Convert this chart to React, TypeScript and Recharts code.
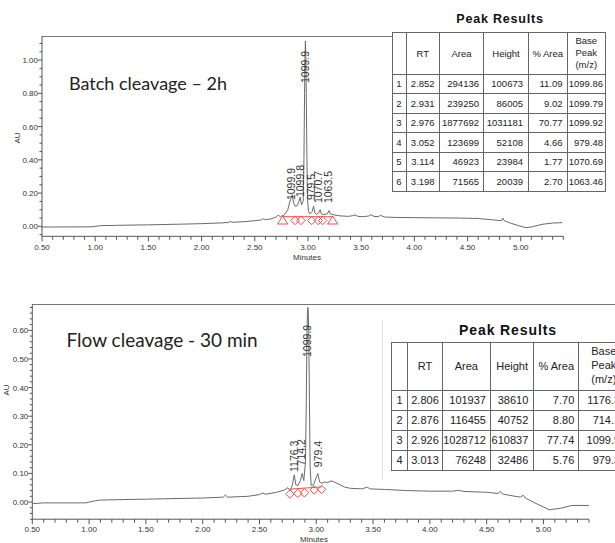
import React from "react";
import { ComposedChart, Line, Scatter, XAxis, YAxis } from "recharts";

// ---- batch cleavage (2h) trace, minutes vs AU
const batchTime = [0.5, 0.6, 0.97, 1.05, 1.2, 1.5, 1.8, 2.0, 2.2, 2.26, 2.27, 2.28, 2.4, 2.5, 2.56, 2.58, 2.6, 2.65, 2.7, 2.72, 2.74, 2.78, 2.81, 2.835, 2.852, 2.865, 2.88, 2.9, 2.915, 2.925, 2.94, 2.955, 2.962, 2.968, 2.972, 2.976, 2.98, 2.984, 2.99, 2.996, 3.005, 3.02, 3.04, 3.052, 3.065, 3.08, 3.1, 3.114, 3.125, 3.15, 3.18, 3.198, 3.21, 3.25, 3.3, 3.38, 3.42, 3.44, 3.47, 3.52, 3.57, 3.59, 3.62, 3.66, 3.68, 3.72, 3.8, 3.9, 4.0, 4.2, 4.4, 4.6, 4.75, 4.82, 4.83, 4.845, 4.9, 4.98, 5.05, 5.1, 5.2, 5.3, 5.39];
const batchAU = [-0.004, -0.004, -0.003, 0.004, 0.006, 0.009, 0.013, 0.016, 0.021, 0.024, 0.032, 0.024, 0.028, 0.034, 0.038, 0.046, 0.04, 0.044, 0.055, 0.068, 0.058, 0.07, 0.1, 0.16, 0.19, 0.14, 0.12, 0.125, 0.15, 0.175, 0.13, 0.15, 0.4, 0.8, 1.02, 1.115, 1.02, 0.8, 0.42, 0.16, 0.09, 0.075, 0.09, 0.12, 0.08, 0.072, 0.08, 0.1, 0.075, 0.07, 0.075, 0.095, 0.075, 0.068, 0.063, 0.06, 0.064, 0.068, 0.06, 0.058, 0.062, 0.07, 0.06, 0.058, 0.066, 0.056, 0.054, 0.053, 0.052, 0.051, 0.05, 0.047, 0.038, 0.034, 0.05, 0.034, 0.02, 0.004, -0.008, -0.004, 0.012, 0.02, 0.022];

const batchLabelTime = [2.84, 2.925, 2.972, 3.035, 3.094, 3.188];
const batchLabelAU = [0.158, 0.176, 0.862, 0.158, 0.14, 0.14];
const batchLabelText = ["1099.9", "1099.8", "1099.9", "979.5", "1070.7", "1063.5"];

const batchMarkTime = [2.762, 2.878, 2.934, 3.035, 3.097, 3.138, 3.232];
const batchMarkAU = [0.035, 0.035, 0.035, 0.035, 0.035, 0.035, 0.035];
const batchMarkShape = ["tri", "dia", "dia", "dia", "dia", "dia", "tri"];
const batchBaseTime = [2.762, 3.232];
const batchBaseAU = [0.058, 0.058];

// ---- flow cleavage (30 min) trace
const flowTime = [0.5, 0.6, 0.97, 1.05, 1.1, 1.5, 2.0, 2.18, 2.2, 2.22, 2.4, 2.5, 2.53, 2.55, 2.65, 2.72, 2.75, 2.77, 2.79, 2.806, 2.82, 2.84, 2.86, 2.876, 2.89, 2.905, 2.912, 2.918, 2.922, 2.926, 2.93, 2.934, 2.94, 2.946, 2.955, 2.975, 2.995, 3.013, 3.03, 3.05, 3.07, 3.1, 3.13, 3.16, 3.2, 3.25, 3.3, 3.4, 3.45, 3.47, 3.6, 3.8, 4.0, 4.2, 4.25, 4.3, 4.5, 4.6, 4.62, 4.64, 4.75, 4.8, 4.82, 4.84, 4.95, 5.05, 5.15, 5.25, 5.4];
const flowAU = [-0.006, -0.003, -0.003, 0.004, 0.007, 0.01, 0.014, 0.017, 0.024, 0.017, 0.02, 0.026, 0.032, 0.027, 0.034, 0.042, 0.05, 0.04, 0.06, 0.095, 0.06, 0.058, 0.075, 0.1, 0.075, 0.14, 0.35, 0.58, 0.66, 0.68, 0.66, 0.58, 0.35, 0.12, 0.058, 0.06, 0.08, 0.1, 0.07, 0.065, 0.07, 0.068, 0.074, 0.07, 0.062, 0.052, 0.048, 0.046, 0.052, 0.046, 0.044, 0.04, 0.038, 0.038, 0.041, 0.037, 0.034, 0.03, 0.037, 0.028, 0.02, 0.017, 0.024, 0.014, -0.008, -0.027, -0.022, -0.012, -0.012];

const flowLabelTime = [2.806, 2.871, 2.92, 3.018];
const flowLabelAU = [0.105, 0.128, 0.507, 0.122];
const flowLabelText = ["1176.3", "714.2", "1099.9", "979.4"];

const flowMarkTime = [2.768, 2.838, 2.896, 2.982, 3.047];
const flowMarkAU = [0.028, 0.03, 0.032, 0.042, 0.044];
const flowBaseTime = [2.768, 3.047];
const flowBaseAU = [0.045, 0.053];

// ---- peak tables
const batchRT = ["2.852", "2.931", "2.976", "3.052", "3.114", "3.198"];
const batchArea = ["294136", "239250", "1877692", "123699", "46923", "71565"];
const batchHeight = ["100673", "86005", "1031181", "52108", "23984", "20039"];
const batchPctArea = ["11.09", "9.02", "70.77", "4.66", "1.77", "2.70"];
const batchBasePeak = ["1099.86", "1099.79", "1099.92", "979.48", "1070.69", "1063.46"];

const flowRT = ["2.806", "2.876", "2.926", "3.013"];
const flowArea = ["101937", "116455", "1028712", "76248"];
const flowHeight = ["38610", "40752", "610837", "32486"];
const flowPctArea = ["7.70", "8.80", "77.74", "5.76"];
const flowBasePeak = ["1176.33", "714.19", "1099.92", "979.35"];

const xMajor = [0.5, 1.0, 1.5, 2.0, 2.5, 3.0, 3.5, 4.0, 4.5, 5.0];
const batchYMajor = [0, 0.2, 0.4, 0.6, 0.8, 1.0];
const flowYMajor = [0, 0.1, 0.2, 0.3, 0.4, 0.5, 0.6];

const FONT = "'Liberation Sans', Arial, sans-serif";
const TRACE = "#6a6a6a";
const RED = "#f0504a";

function steps(from: number, to: number, step: number) {
  const out: number[] = [];
  for (let i = 0; from + i * step <= to + 1e-9; i++) out.push(Math.round((from + i * step) * 1000) / 1000);
  return out;
}
const xTicks = steps(0.5, 5.4, 0.1);

const isMajor = (list: number[], v: number) => list.some((m) => Math.abs(m - v) < 1e-6);

function xTick(labelGap: number) {
  return (p: any) => {
    const v = Number(p.payload.value);
    const major = isMajor(xMajor, v);
    return (
      <g key={`xt-${p.index}`}>
        <line x1={p.x} x2={p.x} y1={p.y} y2={p.y + (major ? 5 : 3.5)} stroke="#555" />
        {major && (
          <text x={p.x} y={p.y + labelGap} textAnchor="middle" fontSize={8} fill="#333" fontFamily={FONT}>
            {v.toFixed(2)}
          </text>
        )}
      </g>
    );
  };
}

function yTick(majors: number[]) {
  return (p: any) => {
    const v = Number(p.payload.value);
    const major = isMajor(majors, v);
    return (
      <g key={`yt-${p.index}`}>
        <line x1={p.x} x2={p.x - (major ? 4 : 2.5)} y1={p.y} y2={p.y} stroke="#555" />
        {major && (
          <text x={p.x - 4} y={p.y + 3} textAnchor="end" fontSize={8} fill="#333" fontFamily={FONT}>
            {v.toFixed(2)}
          </text>
        )}
      </g>
    );
  };
}

const PeakLabel = (p: any) => {
  const { cx, cy, payload } = p;
  return (
    <text x={cx} y={cy} dy="0.36em" transform={`rotate(-90 ${cx} ${cy})`} fontSize={10.5} fill="#333" fontFamily={FONT}>
      {payload.text}
    </text>
  );
};

const PeakMark = (p: any) => {
  const { cx, cy, payload } = p;
  if (payload.shape === "tri") {
    return <path d={`M${cx},${cy - 4.5} L${cx + 5},${cy + 3.5} L${cx - 5},${cy + 3.5} Z`} fill="none" stroke={RED} strokeWidth={1} />;
  }
  return <path d={`M${cx},${cy - 4.2} L${cx + 4.2},${cy} L${cx},${cy + 4.2} L${cx - 4.2},${cy} Z`} fill="none" stroke={RED} strokeWidth={1} />;
};

function Chromatogram(props: {
  top: number; width: number; height: number; margin: any; yDomain: [number, number];
  yMajor: number[]; yMinorStep: number; xLabelGap: number;
  time: number[]; au: number[];
  labelTime: number[]; labelAU: number[]; labelText: string[];
  markTime: number[]; markAU: number[]; markShape: string[];
  baseTime: number[]; baseAU: number[];
}) {
  const trace = props.time.map((t, i) => ({ t, y: props.au[i] }));
  const labels = props.labelTime.map((t, i) => ({ t, y: props.labelAU[i], text: props.labelText[i] }));
  const marks = props.markTime.map((t, i) => ({ t, y: props.markAU[i], shape: props.markShape[i] }));
  const base = props.baseTime.map((t, i) => ({ t, y: props.baseAU[i] }));
  const yTicks = steps(Math.ceil(props.yDomain[0] / props.yMinorStep) * props.yMinorStep, props.yDomain[1], props.yMinorStep);
  // axes are 1px boxes (recharts skips a 0-sized axis), so margins are 1px smaller
  const m = { ...props.margin, left: props.margin.left - 1, bottom: props.margin.bottom - 1 };
  return (
    <div style={{ position: "absolute", left: 0, top: props.top }}>
      <ComposedChart width={props.width} height={props.height} margin={m}>
        <XAxis type="number" dataKey="t" domain={[0.5, 5.4]} ticks={xTicks} interval={0} allowDataOverflow
          height={1} tickSize={0} tickMargin={0} axisLine={{ stroke: "#555" }} tickLine={false} tick={xTick(props.xLabelGap)} />
        <YAxis type="number" dataKey="y" domain={props.yDomain} ticks={yTicks} interval={0} allowDataOverflow
          width={1} tickSize={0} tickMargin={0} axisLine={{ stroke: "#555" }} tickLine={false} tick={yTick(props.yMajor)} />
        <Line data={trace} dataKey="y" type="linear" stroke={TRACE} strokeWidth={1} dot={false} isAnimationActive={false} />
        <Line data={base} dataKey="y" type="linear" stroke={RED} strokeWidth={1} dot={false} isAnimationActive={false} />
        <Scatter data={marks} dataKey="y" shape={PeakMark} isAnimationActive={false} />
        <Scatter data={labels} dataKey="y" shape={PeakLabel} isAnimationActive={false} />
      </ComposedChart>
    </div>
  );
}

function PeakTable(props: {
  left: number; top: number; widths: number[]; headH: number; rowH: number; fontSize: number;
  rt: string[]; area: string[]; height: string[]; pct: string[]; base: string[];
}) {
  const cell = (w: number, align: "center" | "right", pad = 0): React.CSSProperties => ({
    width: w, minWidth: w, maxWidth: w, border: "1px solid #666", padding: `0 ${pad}px 0 0`, textAlign: align,
    boxSizing: "border-box", whiteSpace: "nowrap", overflow: "hidden",
  });
  const w = props.widths;
  return (
    <table style={{
      position: "absolute", left: props.left, top: props.top, borderCollapse: "collapse", tableLayout: "fixed",
      fontFamily: FONT, fontSize: props.fontSize, color: "#222", background: "#fff",
      width: w.reduce((a, b) => a + b, 0),
    }}>
      <tbody>
        <tr style={{ height: props.headH }}>
          <td style={cell(w[0], "center")}></td>
          <td style={cell(w[1], "center")}>RT</td>
          <td style={cell(w[2], "center")}>Area</td>
          <td style={cell(w[3], "center")}>Height</td>
          <td style={cell(w[4], "center")}>% Area</td>
          <td style={{ ...cell(w[5], "center"), lineHeight: 1.25 }}>Base<br />Peak<br />(m/z)</td>
        </tr>
        {props.rt.map((rt, i) => (
          <tr key={i} style={{ height: props.rowH }}>
            <td style={cell(w[0], "center")}>{i + 1}</td>
            <td style={cell(w[1], "center")}>{rt}</td>
            <td style={cell(w[2], "right", 4)}>{props.area[i]}</td>
            <td style={cell(w[3], "right", 5)}>{props.height[i]}</td>
            <td style={cell(w[4], "right", 4)}>{props.pct[i]}</td>
            <td style={cell(w[5], "right", 2)}>{props.base[i]}</td>
          </tr>
        ))}
      </tbody>
    </table>
  );
}

export default function App() {
  return (
    <div style={{ position: "absolute", left: 0, top: 0, width: 615, height: 543, overflow: "hidden", background: "#fff" }}>
      {/* frame lines along the top of each plot */}
      <div style={{ position: "absolute", left: 42, top: 36, width: 350, height: 1, background: "#777" }} />
      <div style={{ position: "absolute", left: 32, top: 304, width: 583, height: 1, background: "#777" }} />
      <div style={{ position: "absolute", left: 382, top: 320, width: 1, height: 160, background: "#ddd" }} />

      <Chromatogram
        top={0} width={615} height={270}
        margin={{ top: 36, left: 42, right: 51.7, bottom: 33.7 }}
        yDomain={[-0.06, 1.145]} yMajor={batchYMajor} yMinorStep={0.05} xLabelGap={14}
        time={batchTime} au={batchAU}
        labelTime={batchLabelTime} labelAU={batchLabelAU} labelText={batchLabelText}
        markTime={batchMarkTime} markAU={batchMarkAU} markShape={batchMarkShape}
        baseTime={batchBaseTime} baseAU={batchBaseAU}
      />
      <Chromatogram
        top={280} width={615} height={263}
        margin={{ top: 24.6, left: 32.3, right: 26.1, bottom: 23.8 }}
        yDomain={[-0.06, 0.69]} yMajor={flowYMajor} yMinorStep={0.02} xLabelGap={13}
        time={flowTime} au={flowAU}
        labelTime={flowLabelTime} labelAU={flowLabelAU} labelText={flowLabelText}
        markTime={flowMarkTime} markAU={flowMarkAU} markShape={flowMarkTime.map(() => "dia")}
        baseTime={flowBaseTime} baseAU={flowBaseAU}
      />

      <svg width={615} height={543} style={{ position: "absolute", left: 0, top: 0, pointerEvents: "none" }}>
        <text x={69} y={90} fontSize={18} fontFamily="Lato, 'Open Sans', sans-serif" fill="#222">Batch cleavage – 2h</text>
        <text x={66.5} y={347} fontSize={19} fontFamily="Lato, 'Open Sans', sans-serif" fill="#222">Flow cleavage - 30 min</text>
        <text x={20} y={138} fontSize={8} fontFamily={FONT} fill="#333" textAnchor="middle" transform="rotate(-90 20 138)">AU</text>
        <text x={9} y={390} fontSize={8} fontFamily={FONT} fill="#333" textAnchor="middle" transform="rotate(-90 9 390)">AU</text>
        <text x={307} y={260} fontSize={8} fontFamily={FONT} fill="#333" textAnchor="middle">Minutes</text>
        <text x={314} y={542} fontSize={8} fontFamily={FONT} fill="#333" textAnchor="middle">Minutes</text>
      </svg>

      <div style={{ position: "absolute", left: 450, top: 12, width: 100, textAlign: "center", fontFamily: FONT, fontWeight: "bold", fontSize: 12.5, letterSpacing: 0.8, color: "#111" }}>Peak Results</div>
      <PeakTable left={391.5} top={31.5} widths={[14, 33.5, 44, 45, 38.5, 38.5]} headH={42} rowH={19.5} fontSize={9.5}
        rt={batchRT} area={batchArea} height={batchHeight} pct={batchPctArea} base={batchBasePeak} />

      <div style={{ position: "absolute", left: 453, top: 322, width: 110, textAlign: "center", fontFamily: FONT, fontWeight: "bold", fontSize: 14, letterSpacing: 0.9, color: "#111" }}>Peak Results</div>
      <PeakTable left={391} top={341.5} widths={[16.3, 34.4, 48.3, 43.3, 45, 50]} headH={48} rowH={20} fontSize={11}
        rt={flowRT} area={flowArea} height={flowHeight} pct={flowPctArea} base={flowBasePeak} />
    </div>
  );
}
